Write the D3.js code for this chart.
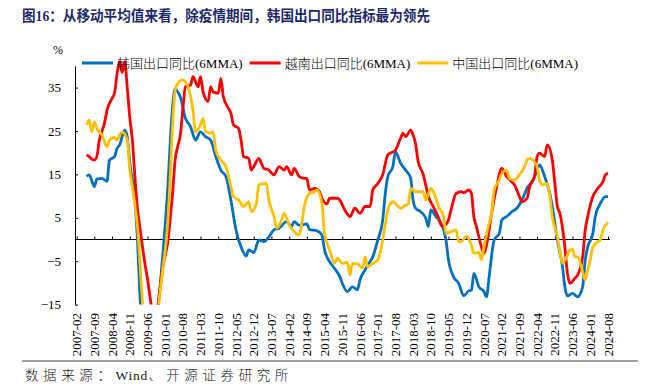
<!DOCTYPE html>
<html>
<head>
<meta charset="utf-8">
<script src="https://cdn.jsdelivr.net/npm/d3@7"></script>
<style>
  body { margin: 0; background: #fff; }
  svg { display: block; }
</style>
</head>
<body>
<svg id="chart"></svg>
<script>
const titleText = "图16：从移动平均值来看，除疫情期间，韩国出口同比指标最为领先";
const sourceParts = ["数据来源：", "Wind", "、开源证券研究所"];
const seriesNames = ["韩国出口同比(6MMA)", "越南出口同比(6MMA)", "中国出口同比(6MMA)"];
const yTicks = [-15, -5, 5, 15, 25, 35];
const tickLabels = ["2007-02","2007-09","2008-04","2008-11","2009-06","2010-01","2010-08","2011-03",
  "2011-10","2012-05","2012-12","2013-07","2014-02","2014-09","2015-04","2015-11","2016-06","2017-01",
  "2017-08","2018-03","2018-10","2019-05","2019-12","2020-07","2021-02","2021-09","2022-04","2022-11",
  "2023-06","2024-01","2024-08"];

// 韩国
const korea = [
  ["2007-06",14.5],["2007-07",14.9],["2007-09",12.2],["2007-10",13.9],["2007-12",14.1],
  ["2008-02",13.4],["2008-03",18.3],["2008-05",19.1],["2008-06",21],["2008-07",21.8],["2008-09",25.2],["2008-10",23.7],["2008-11",17.6],
  ["2009-01",9.1],["2009-02",0],["2009-03",-12.3],["2009-04",-20],["2009-05",-24],["2009-06",-25],["2009-07",-24],["2009-08",-22],["2009-09",-19],["2009-10",-16],["2009-11",-10.5],["2009-12",-4],
  ["2010-01",3.5],["2010-02",12],["2010-03",22],["2010-04",31],["2010-05",34.8],["2010-06",34],["2010-07",32.9],["2010-09",27.9],["2010-11",26],
  ["2011-01",22.9],["2011-03",24.8],["2011-05",23.7],["2011-07",22.9],["2011-09",19.1],["2011-11",16],
  ["2012-01",14.5],["2012-03",9.1],["2012-05",2.2],["2012-07",-1.7],["2012-09",-3.8],["2012-10",-2.4],["2012-12",-3],
  ["2013-02",-0.1],["2013-04",-0.5],["2013-06",0.6],["2013-08",2.2],["2013-10",2.6],
  ["2014-01",4.1],["2014-03",3],["2014-04",4.1],["2014-06",3.3],["2014-09",3.6],["2014-10",2.3],
  ["2015-01",2],["2015-03",1],["2015-04",-2.4],["2015-06",-5.1],["2015-08",-6.7],["2015-10",-8.5],["2015-11",-10.1],
  ["2016-01",-12],["2016-03",-10.9],["2016-05",-11.6],["2016-06",-9.3],["2016-08",-7],["2016-09",-5.9],["2016-11",-4],
  ["2017-01",-0.1],["2017-03",4.5],["2017-04",10.6],["2017-05",14.5],["2017-07",16.8],["2017-08",20.2],["2017-10",17.6],["2017-12",16],
  ["2018-02",14.1],["2018-03",9.1],["2018-04",7.2],["2018-06",6.4],["2018-08",4.9],["2018-09",3],["2018-10",6.8],["2018-12",5.3],
  ["2019-02",3.7],["2019-04",-0.1],["2019-05",-4.7],["2019-07",-8.6],["2019-09",-10.1],["2019-11",-13],
  ["2020-01",-11.8],["2020-02",-11.7],["2020-03",-7.8],["2020-05",-10.9],["2020-07",-12],["2020-08",-13.2],["2020-09",-8.6],["2020-11",-0.1],
  ["2021-01",1.4],["2021-02",4.5],["2021-04",5.3],["2021-06",6.4],["2021-08",7.2],["2021-10",9.1],["2021-12",11.8],
  ["2022-02",13.3],["2022-04",16],["2022-05",17.2],["2022-07",14.5],["2022-09",10.6],["2022-10",7.6],["2022-12",-0.1],
  ["2023-02",-6.3],["2023-03",-10.9],["2023-04",-13],["2023-06",-12.4],["2023-08",-13.2],["2023-10",-10.9],["2023-11",-4.7],["2023-12",-1.7],
  ["2024-02",1.4],["2024-03",5.3],["2024-05",8.3],["2024-07",9.9],["2024-08",9.9]
];

// 越南
const vietnam = [
  ["2007-06",19.5],["2007-07",19.1],["2007-08",18.5],["2007-09",18.3],["2007-10",19.1],["2007-11",22.9],
  ["2008-01",26.8],["2008-02",29.8],["2008-04",32.5],["2008-05",33.7],["2008-06",38.3],["2008-07",41],["2008-08",38.5],["2008-09",41],["2008-10",35],["2008-11",28],["2008-12",23],
  ["2009-01",14.5],["2009-02",7],["2009-03",3],["2009-04",-1.5],["2009-05",-5.5],["2009-06",-9],["2009-07",-13],["2009-08",-17],["2009-09",-18],["2009-10",-16],["2009-11",-11],["2009-12",-6.5],
  ["2010-02",-0.5],["2010-03",4.5],["2010-04",11],["2010-05",18.5],["2010-06",21.5],["2010-07",24],["2010-08",30],["2010-09",35.2],["2010-11",35.6],["2010-12",37.5],
  ["2011-02",35.2],["2011-03",37.5],["2011-04",34],["2011-06",31.8],["2011-07",35.2],["2011-08",34],["2011-10",33.7],["2011-11",37.1],["2011-12",32.9],
  ["2012-02",30.2],["2012-03",29.1],["2012-04",26.4],["2012-06",25.6],["2012-07",22.9],["2012-08",19.1],["2012-10",18.7],["2012-11",16],["2012-12",16.8],
  ["2013-02",18.7],["2013-03",17.6],["2013-04",16.4],["2013-06",16],["2013-08",14.9],["2013-10",16.8],["2013-12",16],
  ["2014-01",16.8],["2014-03",14.9],["2014-04",16.4],["2014-06",14.5],["2014-08",14.1],["2014-09",14.1],["2014-10",11.4],["2014-12",11.8],
  ["2015-02",11],["2015-03",9.5],["2015-05",8.2],["2015-06",9.5],["2015-09",9.5],["2015-10",9.1],["2015-12",6.8],
  ["2016-02",5.3],["2016-04",7.2],["2016-06",6],["2016-08",7.6],["2016-10",7.6],["2016-11",11.4],
  ["2017-01",12.9],["2017-03",14.9],["2017-05",19.5],["2017-06",19.9],["2017-08",20.6],["2017-10",23.3],["2017-11",24.5],["2017-12",23.7],
  ["2018-02",25.2],["2018-03",24.1],["2018-04",22],["2018-05",18],["2018-07",15],["2018-08",12.5],["2018-09",10],["2018-11",7.5],
  ["2019-01",5],["2019-02",3.3],["2019-03",3],["2019-04",3.5],["2019-05",4.5],["2019-06",6.8],["2019-08",10.6],["2019-10",11],["2019-11",10.8],
  ["2020-01",11.4],["2020-02",10.6],["2020-03",5.3],["2020-04",3],["2020-06",-1.7],["2020-07",-3.2],["2020-08",-1.3],["2020-10",6],["2020-12",12.2],
  ["2021-02",16.4],["2021-04",14.5],["2021-06",13.3],["2021-07",12.6],["2021-09",9.9],["2021-10",8.7],["2021-12",9.5],
  ["2022-01",12.2],["2022-03",14.5],["2022-04",19.1],["2022-05",19.9],["2022-07",19.1],["2022-08",21.8],["2022-10",18.3],["2022-11",12.9],["2022-12",7.6],
  ["2023-01",6],["2023-03",-1.7],["2023-04",-7.8],["2023-05",-10.1],["2023-07",-8.9],["2023-08",-8.2],["2023-10",-4],["2023-11",2.2],["2023-12",5.3],
  ["2024-02",9.9],["2024-04",11.8],["2024-06",13.3],["2024-07",14.9],["2024-08",15.3]
];

// 中国
const china = [
  ["2007-06",26.4],["2007-07",27.5],["2007-08",24.8],["2007-09",27.1],["2007-10",25.6],["2007-12",24.1],
  ["2008-02",21.4],["2008-03",22.9],["2008-05",23.5],["2008-06",22.9],["2008-07",24.1],["2008-08",24.8],["2008-10",22.9],["2008-11",16],["2008-12",12.2],
  ["2009-01",8],["2009-02",3],["2009-03",-4.7],["2009-04",-14],["2009-05",-19],["2009-06",-22],["2009-07",-23],["2009-08",-22],["2009-09",-20],["2009-10",-17],["2009-11",-12],["2009-12",-7],
  ["2010-01",-2.5],["2010-02",4],["2010-03",14],["2010-04",27],["2010-05",34.4],["2010-06",36],["2010-08",36.8],["2010-10",35.2],["2010-12",29.8],
  ["2011-01",24.8],["2011-03",26.4],["2011-04",27.9],["2011-05",24.8],["2011-07",24.5],["2011-08",24.8],["2011-09",20.6],["2011-11",18.3],
  ["2012-01",16.8],["2012-03",12.2],["2012-04",9.9],["2012-06",9.1],["2012-08",7.6],["2012-10",8.7],["2012-11",6.4],
  ["2013-01",8.3],["2013-02",12.6],["2013-03",12.8],["2013-05",12.9],["2013-06",9.1],["2013-08",5.3],["2013-09",2.6],["2013-11",4.5],["2013-12",6],
  ["2014-02",3.3],["2014-04",1.8],["2014-06",1],["2014-07",3.7],["2014-08",7.6],["2014-10",10.6],["2014-12",11],
  ["2015-01",11.4],["2015-03",8.3],["2015-04",1.4],["2015-06",-2.4],["2015-08",-5.5],["2015-09",-4.3],["2015-11",-5.5],
  ["2016-01",-5.2],["2016-02",-8.2],["2016-03",-5.5],["2016-05",-5.6],["2016-07",-6.6],["2016-08",-4],["2016-09",-6.3],["2016-11",-5.5],
  ["2017-01",-4.7],["2017-03",-0.1],["2017-04",3.7],["2017-05",6.8],["2017-07",8.7],["2017-08",8.3],["2017-10",7.2],["2017-12",7.9],
  ["2018-01",8.1],["2018-02",11.8],["2018-04",11],["2018-06",11],["2018-07",11],["2018-08",9.1],["2018-10",11.8],["2018-11",11],
  ["2019-01",7.6],["2019-03",5.3],["2019-04",1.4],["2019-06",1.8],["2019-08",2.2],["2019-09",-0.5],["2019-10",-0.5],["2019-12",0.8],
  ["2020-02",-1.3],["2020-03",-3.2],["2020-05",-3],["2020-06",-4.7],["2020-07",-1.7],["2020-09",3.7],["2020-10",6],["2020-11",11.4],
  ["2021-01",13.7],["2021-02",15.2],["2021-04",16],["2021-05",14.1],["2021-07",13.7],["2021-09",14.9],["2021-11",16.8],["2021-12",18.3],
  ["2022-01",18.7],["2022-03",17.9],["2022-04",16.8],["2022-05",13.7],["2022-06",12.6],["2022-08",12.9],["2022-09",9.9],["2022-10",5.3],["2022-12",0.6],
  ["2023-01",-2.8],["2023-02",-5.5],["2023-04",-3.6],["2023-05",-2.4],["2023-06",-2.3],["2023-07",-4],["2023-08",-4],["2023-10",-7.4],["2023-11",-9.3],["2023-12",-7],
  ["2024-01",-4.7],["2024-02",-1.7],["2024-04",-0.5],["2024-05",-0.1],["2024-06",2.2],["2024-08",3.9]
];

const series = [korea, vietnam, china];
const colors = ["#0070C0", "#FF0000", "#FFC000"];

const width = 650, height = 387;
const plot = { left: 75, right: 610, top: 65.9, bottom: 304.6 };
const serif = "'Liberation Serif', 'Times New Roman', 'Noto Sans CJK SC', serif";
const parse = d3.timeParse("%Y-%m");

const svg = d3.select("#chart")
    .attr("width", width)
    .attr("height", height)
    .style("font-family", serif);

const x = d3.scaleTime()
    .domain([parse(tickLabels[0]), parse(tickLabels[tickLabels.length - 1])])
    .range([76.7, 608]);
const y = d3.scaleLinear()
    .domain([-15, 40])
    .range([plot.bottom, plot.top]);

// title
svg.append("text")
    .attr("x", 22).attr("y", 21)
    .attr("textLength", 408).attr("lengthAdjust", "spacingAndGlyphs")
    .style("font-size", "14.5px").style("font-weight", "bold")
    .style("font-family", "'Liberation Serif', 'Noto Sans CJK SC', serif")
    .attr("fill", "#1B2A68")
    .text(titleText);

// y axis
const yAxis = svg.append("g")
    .attr("transform", `translate(${plot.left},0)`)
    .call(d3.axisLeft(y).tickValues(yTicks).tickSizeInner(-3).tickSizeOuter(0).tickPadding(14));
yAxis.select(".domain").attr("stroke", "#000");
yAxis.selectAll("text").style("font-size", "13px").style("font-family", serif).attr("fill", "#000");

svg.append("text")
    .attr("x", 58).attr("y", 54)
    .attr("text-anchor", "middle")
    .style("font-size", "12px")
    .text("%");

// zero line with ticks pointing up
const xAxis = svg.append("g")
    .attr("transform", `translate(0,${y(0)})`)
    .call(d3.axisTop(x).tickValues(tickLabels.map(parse)).tickSize(3).tickFormat(""));
xAxis.select(".domain").remove();
xAxis.append("line")
    .attr("x1", plot.left).attr("x2", plot.right)
    .attr("stroke", "#000").attr("stroke-width", 1.2);

// rotated month labels
svg.append("g").selectAll("text")
    .data(tickLabels)
  .enter().append("text")
    .attr("transform", d => `translate(${x(parse(d)) + 4.6},313) rotate(-90)`)
    .attr("text-anchor", "end")
    .style("font-size", "13px")
    .text(d => d);

// lines
svg.append("clipPath").attr("id", "clip")
  .append("rect")
    .attr("x", plot.left).attr("y", 40)
    .attr("width", plot.right - plot.left + 5)
    .attr("height", plot.bottom - 40);

const line = d3.line()
    .x(d => x(parse(d[0])))
    .y(d => y(d[1]))
    .curve(d3.curveMonotoneX);

svg.append("g").attr("clip-path", "url(#clip)")
  .selectAll("path")
    .data(series)
  .enter().append("path")
    .attr("d", line)
    .attr("fill", "none")
    .attr("stroke", (d, i) => colors[i])
    .attr("stroke-width", 2.8)
    .attr("stroke-linejoin", "round");

// legend
let lx = 82;
seriesNames.forEach((name, i) => {
  const g = svg.append("g");
  g.append("line")
      .attr("x1", lx).attr("x2", lx + 31)
      .attr("y1", 63).attr("y2", 63)
      .attr("stroke", colors[i]).attr("stroke-width", 3);
  const t = g.append("text")
      .attr("x", lx + 35).attr("y", 67.5)
      .style("font-size", "13px")
      .style("font-weight", 300)
      .text(name);
  lx += 35 + t.node().getComputedTextLength() + 7;
});

// footer
svg.append("line")
    .attr("x1", 22).attr("x2", 638)
    .attr("y1", 361).attr("y2", 361)
    .attr("stroke", "#7f7f7f").attr("stroke-width", 1.5);

const src = svg.append("text")
    .attr("x", 25).attr("y", 380)
    .style("font-size", "13.5px")
    .style("font-weight", 300)
    .attr("fill", "#222");
src.selectAll("tspan")
    .data(sourceParts)
  .enter().append("tspan")
    .style("letter-spacing", (d, i) => i === 1 ? "0.8px" : "4.6px")
    .text(d => d);
</script>
</body>
</html>
